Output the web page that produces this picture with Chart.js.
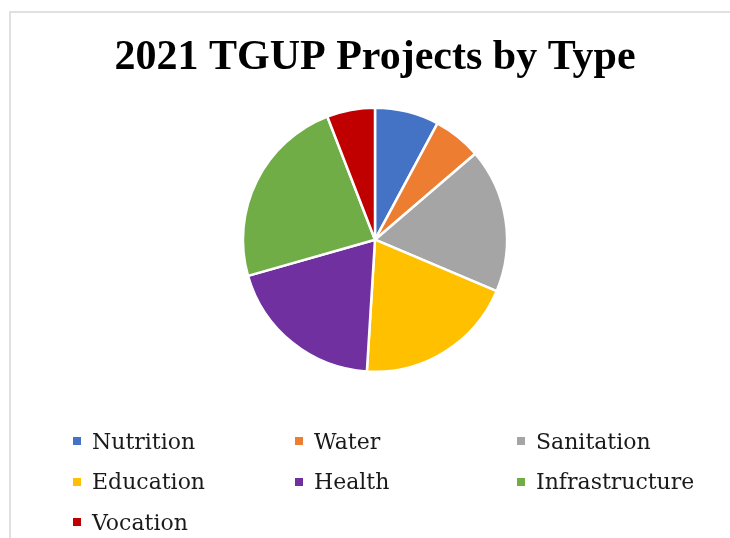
<!DOCTYPE html>
<html>
<head>
<meta charset="utf-8">
<script src="https://cdn.jsdelivr.net/npm/chart.js@4.4.1/dist/chart.umd.min.js"></script>
<style>
  html, body { margin: 0; padding: 0; background: #fff; }
  #wrap { position: relative; width: 730px; height: 538px; overflow: hidden; }
  #frame {
    position: absolute; left: 9px; top: 11px; right: -5px; bottom: -5px;
    border-left: 2px solid #e0e0e0; border-top: 2px solid #e0e0e0;
  }
  canvas { position: absolute; left: 0; top: 0; }
  #legend {
    position: absolute; left: 73px; top: 421px;
    display: grid; grid-template-columns: 222px 222px 222px;
    grid-auto-rows: 40.5px;
    font-family: "DejaVu Serif", serif; font-size: 22px; color: #1a1a1a;
  }
  .item { display: flex; align-items: center; white-space: nowrap; }
  .box { width: 8px; height: 8px; margin-right: 11px; flex: none; }
</style>
</head>
<body>
<div id="wrap">
  <div id="frame"></div>
  <canvas id="pieChart" width="730" height="538"></canvas>
  <div id="legend"></div>
</div>
<script>
// ===== DATA =====
const categories = ["Nutrition", "Water", "Sanitation", "Education", "Health", "Infrastructure", "Vocation"];
const projectCounts = [4, 3, 9, 10, 10, 12, 3];
const sliceColors = ["#4472C4", "#ED7D31", "#A5A5A5", "#FFC000", "#7030A0", "#70AD47", "#C00000"];

// ===== CHART =====
const ctx = document.getElementById("pieChart").getContext("2d");

const pieChart = new Chart(ctx, {
    type: "pie",
    data: {
        labels: categories,
        datasets: [{
            data: projectCounts,
            backgroundColor: sliceColors,
            borderColor: "#ffffff",
            borderWidth: 2.5
        }]
    },
    options: {
        responsive: false,
        animation: false,
        layout: { padding: { left: 20, bottom: 165 } },
        plugins: {
            legend: { display: false },
            tooltip: { enabled: false },
            title: {
                display: true,
                text: "2021 TGUP Projects by Type",
                color: "#000",
                font: { family: "Liberation Serif", size: 42, weight: "bold" },
                padding: { top: 33, bottom: 23 }
            }
        }
    }
});

// ===== LEGEND (3 columns, like the original) =====
const legendEl = document.getElementById("legend");
categories.forEach((name, i) => {
    const item = document.createElement("div");
    item.className = "item";
    const box = document.createElement("span");
    box.className = "box";
    box.style.background = sliceColors[i];
    item.appendChild(box);
    item.appendChild(document.createTextNode(name));
    legendEl.appendChild(item);
});
</script>
</body>
</html>
